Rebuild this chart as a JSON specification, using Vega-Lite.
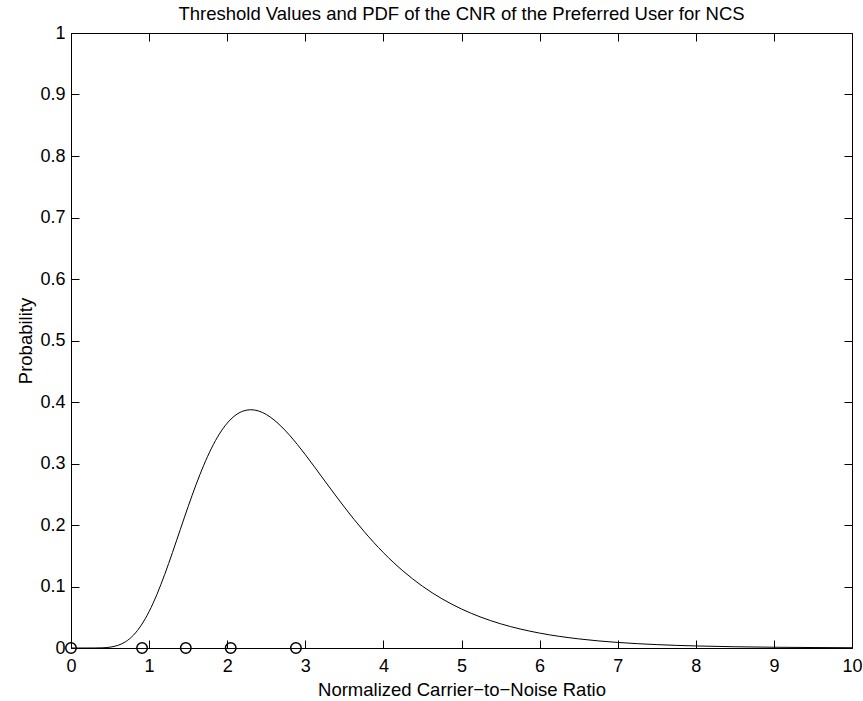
{
  "$schema": "https://vega.github.io/schema/vega-lite/v6.json",
  "width": 781,
  "height": 615,
  "autosize": {"type": "none"},
  "padding": {"left": 71, "top": 33, "right": 11, "bottom": 53},
  "background": "white",
  "config": {
    "font": "Liberation Sans",
    "view": {"stroke": null},
    "axis": {
      "grid": false,
      "domainColor": "black",
      "domainWidth": 1,
      "tickColor": "black",
      "tickWidth": 1,
      "tickSize": -8,
      "labelColor": "black",
      "labelFont": "Liberation Sans",
      "labelFontSize": 18,
      "titleColor": "black",
      "titleFont": "Liberation Sans",
      "titleFontSize": 18.5,
      "titleFontWeight": "normal",
      "labelFlush": false,
      "labelOverlap": false
    }
  },
  "title": {
    "text": "Threshold Values and PDF of the CNR of the Preferred User for NCS",
    "fontSize": 18.5,
    "fontWeight": "normal",
    "font": "Liberation Sans",
    "color": "black",
    "anchor": "middle",
    "baseline": "bottom",
    "offset": -18
  },
  "datasets": {
    "pdf": [
      {"cnr": 0, "p": 0},
      {"cnr": 0.1, "p": 0},
      {"cnr": 0.2, "p": 0.000002},
      {"cnr": 0.3, "p": 0.000039},
      {"cnr": 0.4, "p": 0.000308},
      {"cnr": 0.5, "p": 0.001371},
      {"cnr": 0.6, "p": 0.004253},
      {"cnr": 0.7, "p": 0.010314},
      {"cnr": 0.8, "p": 0.020922},
      {"cnr": 0.9, "p": 0.037108},
      {"cnr": 1.0, "p": 0.05928},
      {"cnr": 1.1, "p": 0.087129},
      {"cnr": 1.2, "p": 0.11969},
      {"cnr": 1.3, "p": 0.15551},
      {"cnr": 1.4, "p": 0.19286},
      {"cnr": 1.5, "p": 0.22998},
      {"cnr": 1.6, "p": 0.26525},
      {"cnr": 1.7, "p": 0.29731},
      {"cnr": 1.8, "p": 0.32512},
      {"cnr": 1.9, "p": 0.34801},
      {"cnr": 2.0, "p": 0.36563},
      {"cnr": 2.1, "p": 0.37792},
      {"cnr": 2.2, "p": 0.38506},
      {"cnr": 2.3, "p": 0.38742},
      {"cnr": 2.4, "p": 0.38546},
      {"cnr": 2.5, "p": 0.37974},
      {"cnr": 2.6, "p": 0.37083},
      {"cnr": 2.7, "p": 0.35932},
      {"cnr": 2.8, "p": 0.34574},
      {"cnr": 2.9, "p": 0.33063},
      {"cnr": 3.0, "p": 0.31442},
      {"cnr": 3.25, "p": 0.27163},
      {"cnr": 3.5, "p": 0.22915},
      {"cnr": 3.75, "p": 0.18984},
      {"cnr": 4.0, "p": 0.15508},
      {"cnr": 4.25, "p": 0.12534},
      {"cnr": 4.5, "p": 0.10046},
      {"cnr": 4.75, "p": 0.08001},
      {"cnr": 5.0, "p": 0.0634},
      {"cnr": 5.25, "p": 0.05005},
      {"cnr": 5.5, "p": 0.03939},
      {"cnr": 5.75, "p": 0.03093},
      {"cnr": 6.0, "p": 0.02424},
      {"cnr": 6.5, "p": 0.014832},
      {"cnr": 7.0, "p": 0.009044},
      {"cnr": 7.5, "p": 0.005503},
      {"cnr": 8.0, "p": 0.003345},
      {"cnr": 8.5, "p": 0.002031},
      {"cnr": 9.0, "p": 0.001233},
      {"cnr": 9.5, "p": 0.000748},
      {"cnr": 10.0, "p": 0.000454}
    ],
    "thr": [
      {"cnr": 0, "p": 0},
      {"cnr": 0.91, "p": 0},
      {"cnr": 1.47, "p": 0},
      {"cnr": 2.045, "p": 0},
      {"cnr": 2.88, "p": 0}
    ]
  },
  "layer": [
    {
      "data": {"name": "pdf"},
      "mark": {"type": "line", "color": "black", "strokeWidth": 1, "interpolate": "monotone"},
      "encoding": {
        "x": {
          "field": "cnr",
          "type": "quantitative",
          "scale": {"domain": [0, 10], "nice": false, "zero": false},
          "axis": {
            "orient": "bottom",
            "values": [0, 1, 2, 3, 4, 5, 6, 7, 8, 9, 10],
            "format": "~r",
            "labelPadding": 17,
            "titlePadding": 5,
            "title": "Normalized Carrier−to−Noise Ratio"
          }
        },
        "y": {
          "field": "p",
          "type": "quantitative",
          "scale": {"domain": [0, 1], "nice": false},
          "axis": {
            "orient": "left",
            "values": [0, 0.1, 0.2, 0.3, 0.4, 0.5, 0.6, 0.7, 0.8, 0.9, 1],
            "format": "~r",
            "labelPadding": 14,
            "titlePadding": 4,
            "title": "Probability"
          }
        }
      }
    },
    {
      "data": {"name": "thr"},
      "mark": {"type": "point", "shape": "circle", "filled": false, "color": "black", "strokeWidth": 1.5, "size": 110, "opacity": 1},
      "encoding": {
        "x": {
          "field": "cnr",
          "type": "quantitative",
          "axis": {
            "orient": "top",
            "values": [0, 1, 2, 3, 4, 5, 6, 7, 8, 9, 10],
            "labels": false,
            "title": null
          }
        },
        "y": {
          "field": "p",
          "type": "quantitative",
          "axis": {
            "orient": "right",
            "values": [0, 0.1, 0.2, 0.3, 0.4, 0.5, 0.6, 0.7, 0.8, 0.9, 1],
            "labels": false,
            "title": null
          }
        }
      }
    }
  ],
  "resolve": {"axis": {"x": "independent", "y": "independent"}}
}
